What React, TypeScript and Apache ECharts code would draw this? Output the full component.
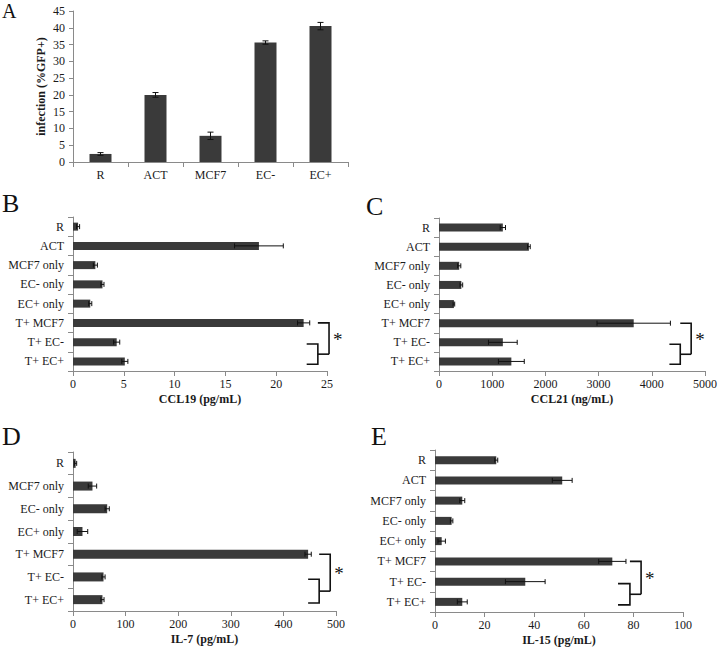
import React, { useEffect, useRef } from "react";
import * as echarts from "echarts";

// ---------- data ----------
const catsA = ["R", "ACT", "MCF7", "EC-", "EC+"];
const valsA = [2.4, 20.0, 7.8, 35.6, 40.5];
const errA = [0.4, 0.7, 1.1, 0.5, 1.1];

const catsB = ["R", "ACT", "MCF7 only", "EC- only", "EC+ only", "T+ MCF7", "T+ EC-", "T+ EC+"];
const valsB = [0.5, 18.3, 2.2, 2.9, 1.7, 22.7, 4.3, 5.1];
const errB = [0.15, 2.4, 0.2, 0.15, 0.15, 0.6, 0.3, 0.3];

const catsC = ["R", "ACT", "MCF7 only", "EC- only", "EC+ only", "T+ MCF7", "T+ EC-", "T+ EC+"];
const valsC = [1200, 1690, 380, 420, 280, 3660, 1200, 1360];
const errC = [50, 25, 30, 25, 15, 690, 270, 243];

const catsD = ["R", "MCF7 only", "EC- only", "EC+ only", "T+ MCF7", "T+ EC-", "T+ EC+"];
const valsD = [5, 37, 65, 18, 447, 58, 56];
const errD = [2, 8, 4, 10, 6, 3, 3];

const catsE = ["R", "ACT", "MCF7 only", "EC- only", "EC+ only", "T+ MCF7", "T+ EC-", "T+ EC+"];
const valsE = [24.7, 51.3, 11, 6.7, 2.7, 71.5, 36.4, 11];
const errE = [0.6, 4, 1, 0.5, 1.5, 5.5, 8, 2];

// ---------- styles ----------
const FONT = "Liberation Serif";
const TEXT = "#1a1a1a";
const AXIS = "#8a8a8a";
const BAR = "#3a3a3a";

const catAxisLabel = { color: TEXT, fontFamily: FONT, fontSize: 12 };

function valueX(grid: number, max: number, interval: number, name: string) {
  return {
    type: "value",
    gridIndex: grid,
    min: 0,
    max,
    interval,
    splitLine: { show: false },
    axisLine: { show: true, lineStyle: { color: AXIS, width: 1 } },
    axisTick: { show: true, length: 5, lineStyle: { color: AXIS } },
    axisLabel: { color: TEXT, fontFamily: FONT, fontSize: 12, margin: 7, formatter: (v: number) => String(v) },
    name,
    nameLocation: "middle",
    nameGap: 22,
    nameTextStyle: { color: TEXT, fontFamily: FONT, fontSize: 12, fontWeight: "bold" },
  };
}

function catY(grid: number, cats: string[]) {
  return {
    type: "category",
    gridIndex: grid,
    data: cats,
    inverse: true,
    axisLine: { show: true, lineStyle: { color: AXIS, width: 1 } },
    axisTick: { show: true, length: 5, alignWithLabel: false, lineStyle: { color: AXIS } },
    axisLabel: { ...catAxisLabel, margin: 9 },
  };
}

function barSeries(grid: number, vals: number[], width: number) {
  return {
    type: "bar",
    xAxisIndex: grid,
    yAxisIndex: grid,
    data: vals,
    barWidth: width,
    itemStyle: { color: BAR },
    z: 2,
  };
}

function errSeries(grid: number, vals: number[], errs: number[], horizontal: boolean) {
  return {
    type: "custom",
    xAxisIndex: grid,
    yAxisIndex: grid,
    data: vals.map((v, i) => [i, v - errs[i], v + errs[i]]),
    encode: horizontal ? { x: [1, 2], y: 0 } : { x: 0, y: [1, 2] },
    z: 5,
    renderItem: (params: any, api: any) => {
      const i = api.value(0);
      const lo = api.value(1);
      const hi = api.value(2);
      const p1 = horizontal ? api.coord([lo, i]) : api.coord([i, lo]);
      const p2 = horizontal ? api.coord([hi, i]) : api.coord([i, hi]);
      const c = horizontal ? 2.5 : 3;
      const st = { stroke: "#111", lineWidth: 1 };
      const cap = (p: number[]) =>
        horizontal
          ? { type: "line", shape: { x1: p[0], y1: p[1] - c, x2: p[0], y2: p[1] + c }, style: st }
          : { type: "line", shape: { x1: p[0] - c, y1: p[1], x2: p[0] + c, y2: p[1] }, style: st };
      return {
        type: "group",
        children: [
          { type: "line", shape: { x1: p1[0], y1: p1[1], x2: p2[0], y2: p2[1] }, style: st },
          cap(p1),
          cap(p2),
        ],
      };
    },
  };
}

// bracket: x0 start, x1 inner vertical, x2 outer vertical (value units); cat indices
function bracketSeries(grid: number, x0: number, x1: number, x2: number, cTop: number, cA: number, cB: number) {
  return {
    type: "custom",
    xAxisIndex: grid,
    yAxisIndex: grid,
    data: [[0, 0]],
    clip: false,
    silent: true,
    z: 6,
    renderItem: (params: any, api: any) => {
      const band = api.size([0, 1])[1];
      const yTop = api.coord([x1, cTop])[1];
      const yA = api.coord([x1, cA])[1] + 0.1 * band;
      const yB = api.coord([x1, cB])[1] + 0.15 * band;
      const yM = (yA + yB) / 2;
      const px0 = api.coord([x0, cA])[0];
      const px1 = api.coord([x1, cA])[0];
      const px2 = api.coord([x2, cA])[0];
      const st = { stroke: "#111", lineWidth: 1.6, fill: "none" };
      return {
        type: "group",
        children: [
          { type: "polyline", shape: { points: [[px0, yA], [px1, yA], [px1, yB], [px0, yB]] }, style: st },
          { type: "line", shape: { x1: px1, y1: yM, x2: px2, y2: yM }, style: st },
          { type: "polyline", shape: { points: [[px1, yTop], [px2, yTop], [px2, yM]] }, style: st },
          {
            type: "text",
            x: px2 + 4,
            y: (yTop + yM) / 2 + 1,
            style: { text: "*", fill: "#111", fontSize: 19, fontFamily: FONT, textAlign: "left", textVerticalAlign: "middle" },
          },
        ],
      };
    },
  };
}

function letter(text: string, x: number, y: number, size: number) {
  return {
    type: "text",
    x,
    y,
    style: { text, fill: "#111", fontSize: size, fontFamily: FONT, textAlign: "left", textVerticalAlign: "top" },
  };
}

export default function App() {
  const ref = useRef<HTMLDivElement>(null);
  useEffect(() => {
    if (!ref.current) return;
    const chart = echarts.init(ref.current, undefined, { renderer: "svg" });
    const option: any = {
      animation: false,
      backgroundColor: "#ffffff",
      textStyle: { fontFamily: FONT },
      grid: [
        { left: 73, top: 11, width: 275, height: 151 },
        { left: 73, top: 217, width: 254, height: 154 },
        { left: 439, top: 218, width: 269, height: 153 },
        { left: 73, top: 452, width: 263, height: 159 },
        { left: 435, top: 450, width: 248, height: 162 },
      ],
      xAxis: [
        {
          type: "category",
          gridIndex: 0,
          data: catsA,
          axisLine: { show: true, lineStyle: { color: AXIS } },
          axisTick: { show: true, length: 5, alignWithLabel: false, lineStyle: { color: AXIS } },
          axisLabel: { ...catAxisLabel, margin: 7 },
        },
        valueX(1, 25, 5, "CCL19 (pg/mL)"),
        valueX(2, 5000, 1000, "CCL21 (ng/mL)"),
        valueX(3, 500, 100, "IL-7 (pg/mL)"),
        valueX(4, 100, 20, "IL-15 (pg/mL)"),
      ],
      yAxis: [
        {
          type: "value",
          gridIndex: 0,
          min: 0,
          max: 45,
          interval: 5,
          splitLine: { show: false },
          axisLine: { show: true, lineStyle: { color: AXIS } },
          axisTick: { show: true, length: 4, lineStyle: { color: AXIS } },
          axisLabel: { color: TEXT, fontFamily: FONT, fontSize: 12, margin: 8 },
          name: "infection (%GFP+)",
          nameLocation: "middle",
          nameGap: 26,
          nameTextStyle: { color: TEXT, fontFamily: FONT, fontSize: 12, fontWeight: "bold" },
        },
        catY(1, catsB),
        catY(2, catsC),
        catY(3, catsD),
        catY(4, catsE),
      ],
      series: [
        barSeries(0, valsA, 22),
        errSeries(0, valsA, errA, false),
        barSeries(1, valsB, 8),
        errSeries(1, valsB, errB, true),
        bracketSeries(1, 23.0, 24.1, 25.2, 5, 6, 7),
        barSeries(2, valsC, 8),
        errSeries(2, valsC, errC, true),
        bracketSeries(2, 4331, 4535, 4740, 5, 6, 7),
        barSeries(3, valsD, 9),
        errSeries(3, valsD, errD, true),
        bracketSeries(3, 447, 468, 489, 4, 5, 6),
        barSeries(4, valsE, 8),
        errSeries(4, valsE, errE, true),
        bracketSeries(4, 73.8, 78.6, 83.1, 5, 6, 7),
      ],
      graphic: [
        letter("A", 2, 1, 20),
        letter("B", 2, 190, 26),
        letter("C", 366, 193, 26),
        letter("D", 2, 423, 26),
        letter("E", 371, 423, 26),
      ],
    };
    chart.setOption(option);
    return () => chart.dispose();
  }, []);
  return (
    <div
      ref={ref}
      style={{ position: "absolute", left: 0, top: 0, width: 720, height: 648, background: "#fff" }}
    />
  );
}
